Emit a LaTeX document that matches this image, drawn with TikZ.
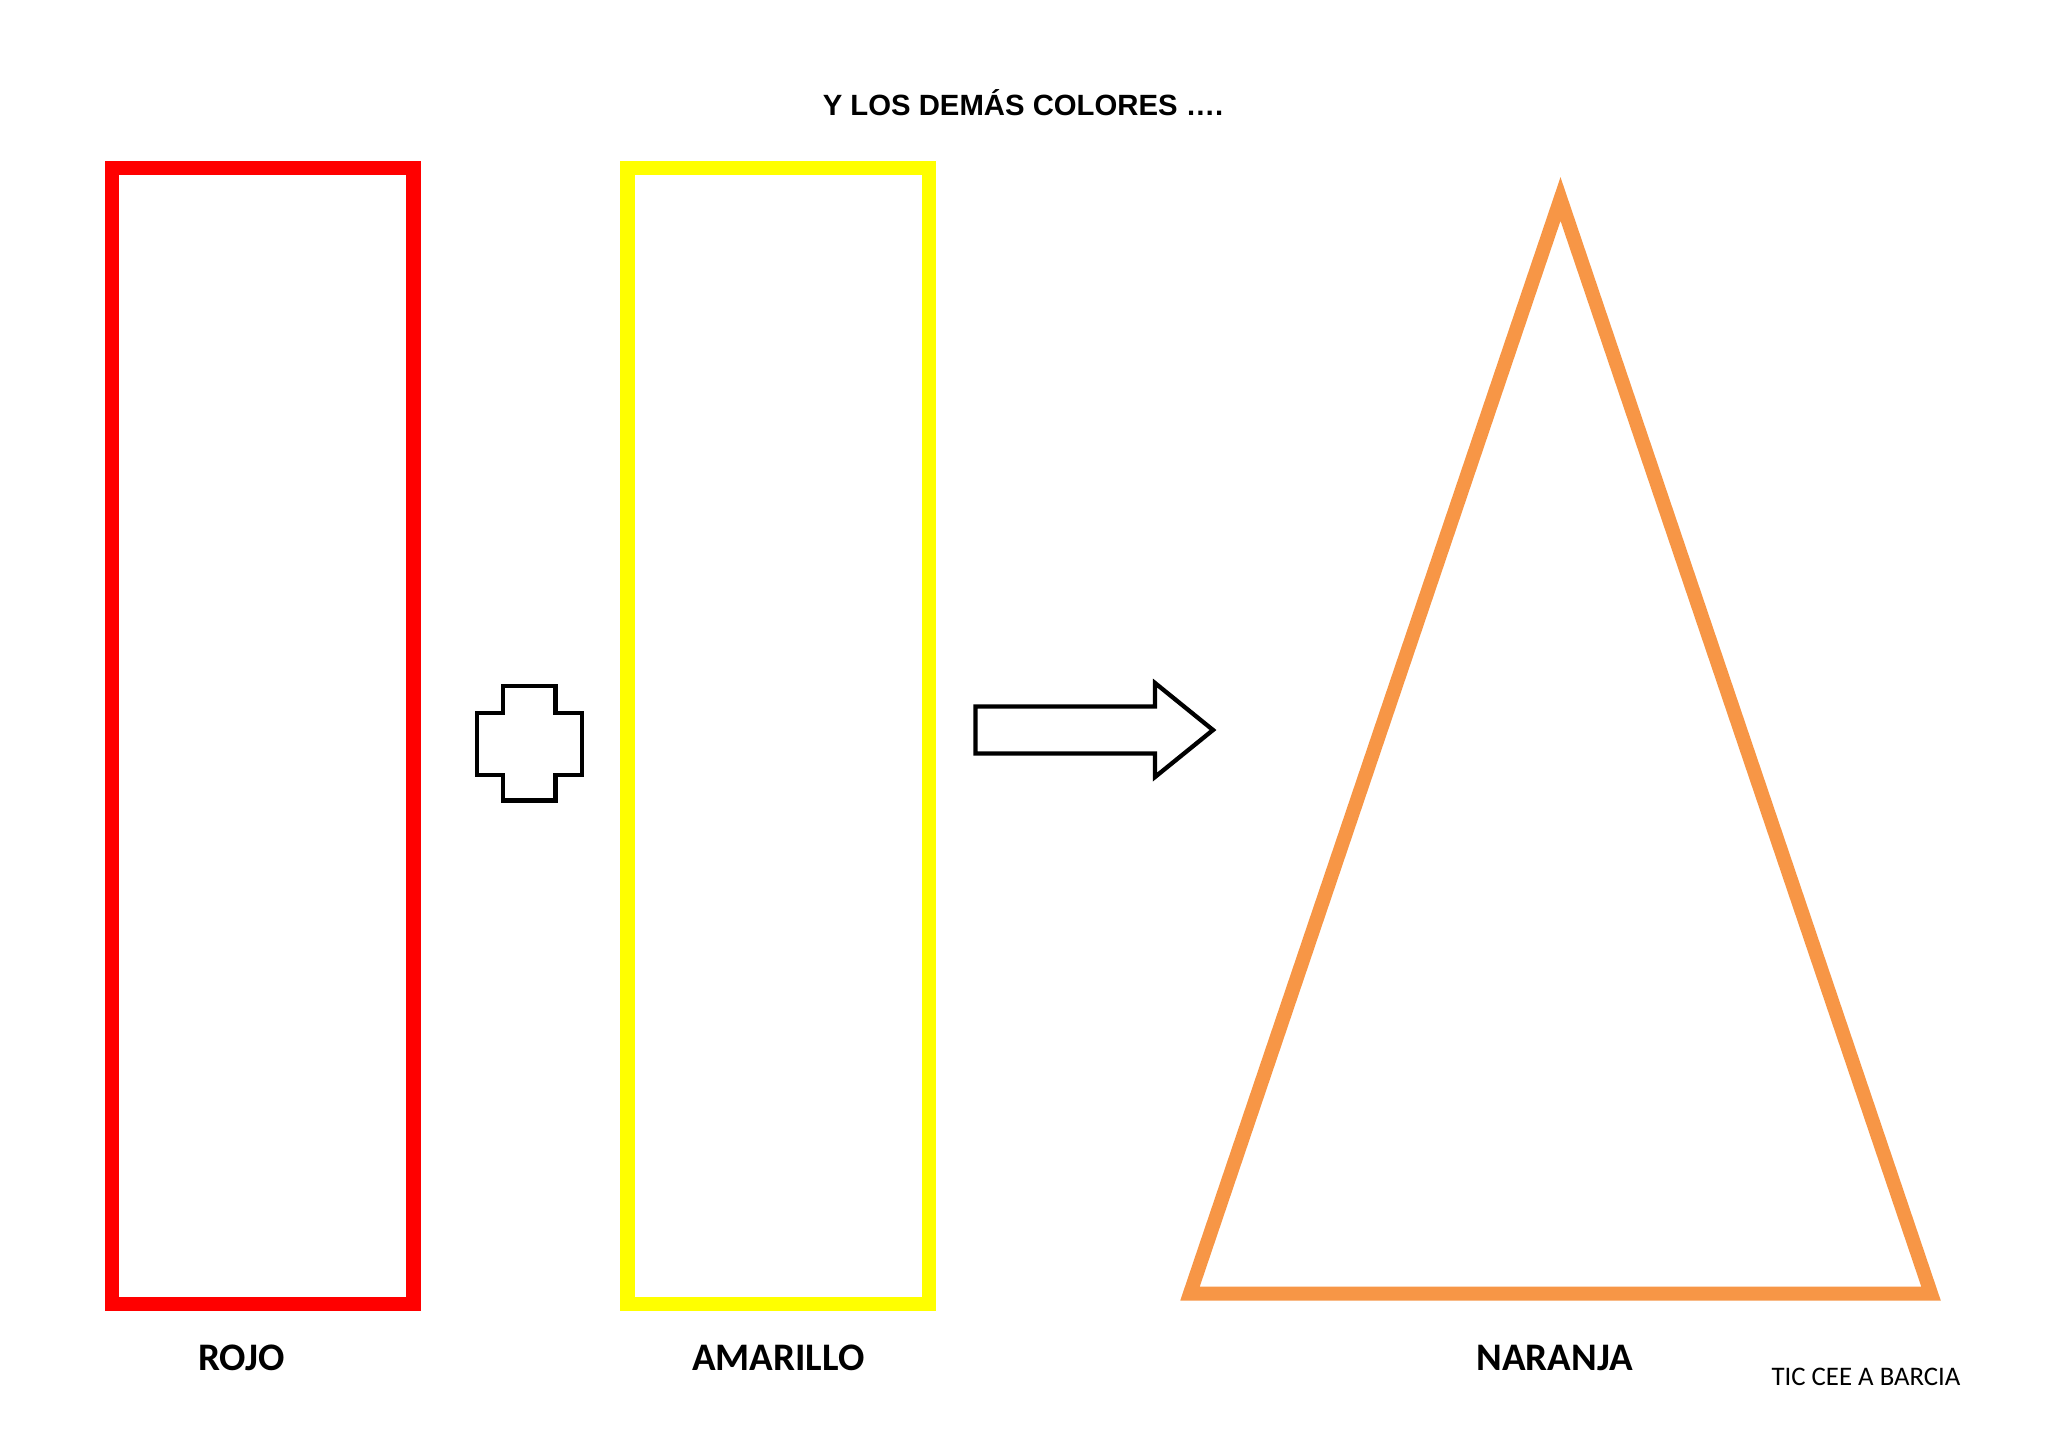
\documentclass[tikz,border=0pt]{standalone}
\usepackage{fontspec}
\setmainfont{Liberation Sans}
\newfontfamily\calib{Carlito}
\definecolor{rojo}{HTML}{FF0000}
\definecolor{amarillo}{HTML}{FFFF00}
\definecolor{naranja}{HTML}{F79646}
\begin{document}
\begin{tikzpicture}[x=1pt,y=-1pt,
  frame/.style={line width=14.5pt, miter limit=10},
  outline/.style={draw=black, line width=4.3pt, fill=white, miter limit=10},
  label/.style={anchor=base, inner sep=0pt, font=\calib\bfseries\fontsize{39}{42}\selectfont},
  title/.style={anchor=base, inner sep=0pt, font=\bfseries\fontsize{29.3}{33}\selectfont}]
\useasboundingbox[fill=white] (0,0) rectangle (2048,1449);
% title
\node[title] (title) at (1023,115) {Y LOS DEMÁS COLORES ….};
% red rectangle
\draw[frame, draw=rojo] (112,168) rectangle (413.3,1304);
% yellow rectangle
\draw[frame, draw=amarillo] (627.7,168) rectangle (929,1304);
% plus sign
\draw[outline] (502.8,686) -- (555.5,686) -- (555.5,712.8) -- (582,712.8) -- (582,775.3)
  -- (555.5,775.3) -- (555.5,800.5) -- (502.8,800.5) -- (502.8,775.3) -- (476.8,775.3)
  -- (476.8,712.8) -- (502.8,712.8) -- cycle;
% arrow
\draw[outline] (975.5,706.5) -- (1155,706.5) -- (1155,683) -- (1213,730) -- (1155,777)
  -- (1155,753.5) -- (975.5,753.5) -- cycle;
% orange triangle
\draw[frame, line width=14pt, draw=naranja] (1560.5,199) -- (1931,1293.5) -- (1190,1293.5) -- cycle;
% labels
\node[label] (rojo) at (241.6,1370.7) {ROJO};
\node[label] (amarillo) at (778.4,1370.7) {AMARILLO};
\node[label] (naranja) at (1554.5,1370.7) {NARANJA};
\node[anchor=base, inner sep=0pt, font=\calib\fontsize{26.8}{30}\selectfont] (tic) at (1866,1385) {TIC CEE A BARCIA};
\end{tikzpicture}
\end{document}
